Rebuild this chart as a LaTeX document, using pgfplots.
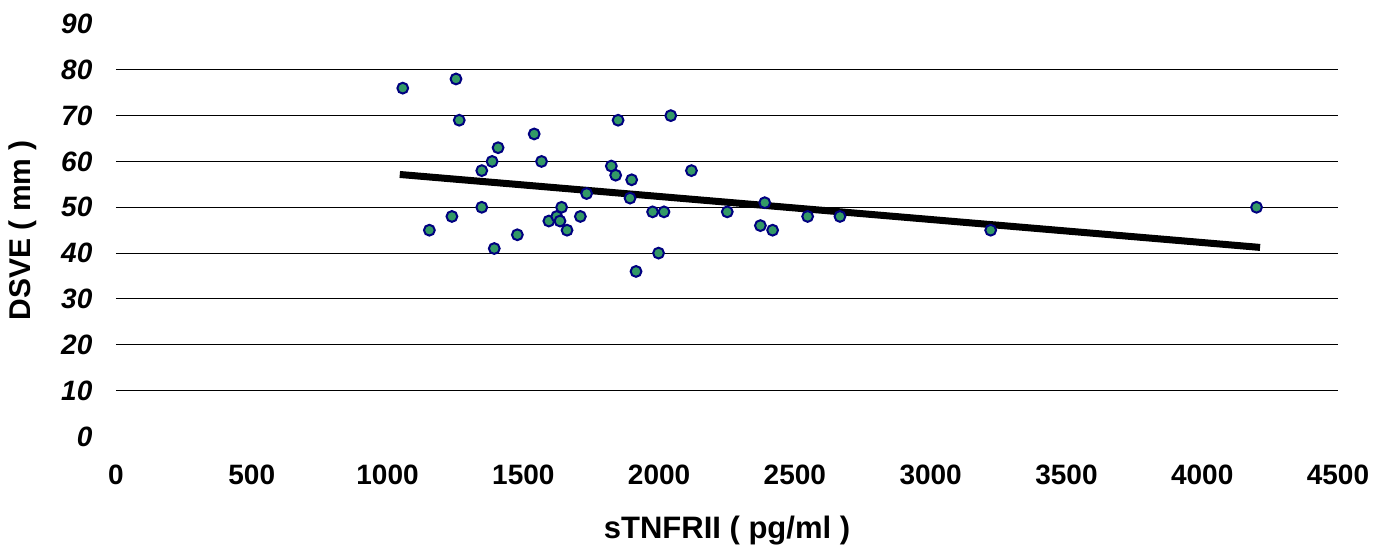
\documentclass[border=0pt]{standalone}
\usepackage{fontspec}
\setmainfont{Liberation Sans}
\usepackage{pgfplots}
\pgfplotsset{compat=1.18}
\definecolor{markfill}{HTML}{339966}
\definecolor{markedge}{HTML}{000080}

\begin{document}
\begin{tikzpicture}
    \begin{axis}[
        scale only axis,
        width=611pt, height=206.2pt,
        xmin=0, xmax=4500,
        ymin=0, ymax=90,
        xtick={0,500,...,4500},
        ytick={0,10,...,90},
        axis line style={draw=none},
        major tick length=0pt,
        /pgf/number format/assume math mode=true,
        /pgf/number format/1000 sep={},
        xticklabel style={font=\fontsize{14}{16}\selectfont\bfseries, yshift=-10.6pt},
        yticklabel style={font=\fontsize{14}{16}\selectfont\bfseries\itshape, xshift=-8.3pt},
        % gridlines only from 10 to 80
        extra y ticks={10,20,...,80},
        extra y tick labels={},
        extra tick style={grid=major},
        major grid style={black, line width=0.5pt},
        xlabel={sTNFRII ( pg/ml )},
        ylabel={DSVE ( mm )},
        every axis x label/.style={at={(rel axis cs:0.5,0)}, yshift=-47.2pt, anchor=center,
            font=\fontsize{15.5}{17}\selectfont\bfseries},
        every axis y label/.style={at={(rel axis cs:0,0.5)}, xshift=-46.5pt, rotate=90, anchor=center,
            font=\fontsize{15}{17}\selectfont\bfseries},
        clip=false,
        ]

        % measured points
        \addplot[only marks, mark=*, mark size=2.7pt,
            mark options={fill=markfill, draw=markedge, line width=1pt}]
        coordinates {
            (1056,76) (1252,78) (1264,69) (1540,66) (1407,63) (1385,60)
            (1567,60) (1347,58) (1347,50) (1154,45) (1237,48) (1393,41)
            (1478,44) (1594,47) (1623,48) (1635,47) (1641,50) (1661,45)
            (1710,48) (1733,53) (1824,59) (1840,57) (1849,69) (1893,52)
            (1899,56) (1915,36) (1976,49) (1998,40) (2018,49) (2043,70)
            (2119,58) (2251,49) (2389,51) (2373,46) (2418,45) (2547,48)
            (2666,48) (3221,45) (4200,50)
        };

        % linear trend line
        \addplot[black, line width=3.5pt, line cap=butt] coordinates {
            (1045,57.16) (4213,41.24)
        };
    \end{axis}
    \pgfresetboundingbox
    \path (current axis.south west) ++(-58pt,-56.3pt) rectangle ++(686.5pt,274.5pt);
\end{tikzpicture}
\end{document}
